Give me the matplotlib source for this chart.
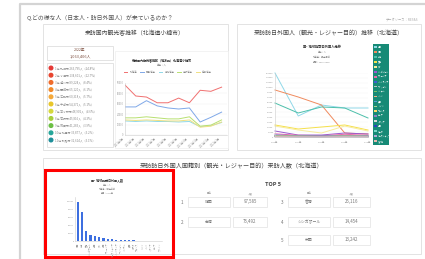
import matplotlib
matplotlib.use('Agg')
import matplotlib.pyplot as plt
from matplotlib.patches import Rectangle, Circle

plt.rcParams['font.family'] = ['Noto Sans CJK JP', 'DejaVu Sans']

# --- data -------------------------------------------------------------
page_title = 'Q.どの様な人（日本人・訪日外国人）が来ているのか？'
source_note = 'データソース：RESAS'

# panel 1: domestic visitors (Otaru)
total_year = '2022年'
total_count = '1,063,406人'
rank_labels = ['1位 札幌市 263,795人（24.8%）', '2位 小樽市 134,601人（12.7%）',
               '3位 旭川市 89,224人（8.4%）', '4位 函館市 65,120人（6.1%）',
               '5位 江別市 60,318人（5.7%）', '6位 千歳市 54,371人（5.1%）',
               '7位 苫小牧市 48,902人（4.6%）', '8位 石狩市 45,816人（4.3%）',
               '9位 帯広市 41,283人（3.9%）', '10位 北見市 33,877人（3.2%）',
               '11位 釧路市 32,614人（3.1%）']
rank_colors = ['#e53935', '#e8452f', '#ef6c2c', '#f2892a', '#f5a93a', '#e8c62a',
               '#d5d83a', '#a8cf3a', '#6cbf45', '#26a69a', '#1e8f9a']

months = ['2021年4月', '2021年5月', '2021年6月', '2021年7月', '2021年8月',
          '2021年9月', '2021年10月', '2021年11月', '2021年12月', '2022年1月']
dom_names = ['北海道', '関東地方', '東北地方', '中部地方', '近畿地方']
dom_colors = ['#f07070', '#7fa8e8', '#8fd8e8', '#b8e070', '#f0e080']
dom_hokkaido = [48000, 37500, 36500, 31000, 31000, 35500, 31000, 43000, 42000, 46000]
dom_kanto = [27000, 27000, 33000, 28000, 26000, 25000, 26000, 12500, 17000, 22000]
dom_tohoku = [13500, 13000, 13500, 13000, 13000, 12500, 13000, 8000, 9000, 12000]
dom_chubu = [16500, 16500, 17500, 16500, 15500, 15500, 17500, 8500, 9500, 14500]
dom_kinki = [14500, 14000, 14500, 14000, 13500, 13500, 14500, 7500, 8500, 12500]

# panel 2: foreign visitors by country (Hokkaido)
years = ['2016年', '2017年', '2018年', '2019年', '2020年']
intl_names = ['中国', '韓国', '台湾', '香港', 'タイ', 'シンガポール', 'マレーシア',
              'インドネシア', 'フィリピン', 'ベトナム', 'インド', '英国', 'ドイツ',
              'フランス', 'ロシア', 'イタリア', '米国', 'カナダ', 'オーストラリア', 'その他']
intl_colors = ['#8fd8e8', '#f08a5d', '#4cbfaa', '#f5e04a', '#f8ec9a', '#9b59d0',
               '#e86aa8', '#3f5fd0', '#c0c0c0', '#7ac36a', '#f4b183', '#5b9bd5',
               '#a9d18e', '#ffd966', '#8e7cc3', '#d9d9d9', '#2f3fbf', '#76d7c4',
               '#b4a7d6', '#e6b8af']
intl_values = [
    [130000, 42700, 65000, 58900, 58900],
    [95500, 81250, 65000, 8100, 6100],
    [69000, 48750, 61000, 58900, 38600],
    [24400, 16250, 20300, 24400, 14200],
    [22300, 14200, 8100, 22300, 12200],
    [12200, 4000, 4000, 8100, 6100],
    [6500, 3500, 2500, 5500, 3500],
    [4000, 2500, 2000, 3000, 2500],
    [3000, 2000, 1500, 2500, 2000],
    [2500, 1800, 1200, 2000, 1500],
    [2000, 1500, 1000, 1800, 1200],
    [1800, 1200, 900, 1500, 1000],
    [1500, 1000, 800, 1200, 900],
    [1300, 900, 700, 1000, 800],
    [1200, 800, 600, 900, 700],
    [1000, 700, 500, 800, 600],
    [900, 600, 500, 700, 500],
    [800, 500, 400, 600, 400],
    [700, 400, 300, 500, 300],
    [600, 300, 200, 400, 200],
]

# lower panel: visitors by nationality
nat_names = ['韓国', '台湾', '香港', 'シンガポール', '米国', 'タイ', '中国', 'マレーシア',
             'オーストラリア', 'インドネシア', 'フィリピン', 'ベトナム', '英国', 'カナダ',
             'フランス', 'ドイツ', 'インド', 'イタリア', 'ロシア', 'スペイン']
nat_values = [97585, 73492, 25116, 14454, 13242, 9800, 6500, 4800, 3900, 3300,
              2800, 2400, 1900, 1500, 1200, 900, 700, 500, 400, 300]

# --- figure -----------------------------------------------------------
W, H = 425, 259
fig = plt.figure(figsize=(W / 100, H / 100), dpi=100)
bg = fig.add_axes([0, 0, 1, 1])
bg.set_xlim(0, W)
bg.set_ylim(H, 0)
bg.axis('off')


def px_axes(x0, y0, x1, y1):
    return fig.add_axes([x0 / W, 1 - y1 / H, (x1 - x0) / W, (y1 - y0) / H])


def box(x0, y0, x1, y1, ec='#dedede', lw=0.6, fc='white', z=1):
    bg.add_patch(Rectangle((x0, y0), x1 - x0, y1 - y0, ec=ec, fc=fc, lw=lw, zorder=z))


def tiny_axes(ax, fs):
    for s in ['top', 'right']:
        ax.spines[s].set_visible(False)
    for s in ['left', 'bottom']:
        ax.spines[s].set_color('#cccccc')
        ax.spines[s].set_linewidth(0.4)
    ax.tick_params(labelsize=fs, colors='#999999', length=0, pad=1)
    ax.set_facecolor('none')


# outer card
bg.plot([20, 20, W], [H, 4, 4], color='#d4d4d4', lw=1.6, zorder=0)
bg.text(27, 18, page_title, fontsize=4.2, color='#555555', va='center')
bg.text(418, 20, source_note, fontsize=2.3, color='#aaaaaa', va='center', ha='right')

# panel boxes
box(43, 24, 228, 150)
box(237, 24, 421, 150)
box(43, 158, 421, 254)
bg.text(135, 33, '来訪国内観光客推移（北海道小樽市）', fontsize=4.2, color='#444444',
        ha='center', va='center')
bg.text(329, 33, '来訪訪日外国人（観光・レジャー目的）推移（北海道）', fontsize=4.3,
        color='#444444', ha='center', va='center')
bg.text(232, 166, '来訪訪日外国人国籍別（観光・レジャー目的）来訪人数（北海道）',
        fontsize=4.4, color='#444444', ha='center', va='center')

# --- panel 1 ------------------------------------------------------------
box(47, 46, 113, 60, z=2)
bg.text(80, 50, total_year, fontsize=2.6, color='#7a4a3a', ha='center', va='center', zorder=3)
bg.text(80, 56, total_count, fontsize=2.8, color='#7a4a3a', ha='center', va='center', zorder=3)
box(47, 63, 113, 147, z=2)
for i, (lab, col) in enumerate(zip(rank_labels, rank_colors)):
    yy = 68 + i * 7.2
    bg.add_patch(Circle((51, yy), 1.8, color=col, zorder=3))
    bg.text(55, yy, lab, fontsize=2.1, color='#888888', va='center', zorder=3)

box(115, 51, 227.7, 148, ec='#eeeeee', lw=0.5, z=2)
bg.text(162, 60, '来訪国内観光客推移（地方別）北海道小樽市', fontsize=2.2, color='#333333',
        ha='center', va='center', weight='bold', zorder=3)
bg.text(162, 65, '単位：人', fontsize=1.8, color='#888888', ha='center', va='center', zorder=3)

ax1 = px_axes(125, 83, 227, 135)
for vals, name, col in zip([dom_hokkaido, dom_kanto, dom_tohoku, dom_chubu, dom_kinki],
                           dom_names, dom_colors):
    ax1.plot(range(len(months)), vals, color=col, lw=0.7, label=name)
tiny_axes(ax1, 1.8)
ax1.set_xlim(0, len(months) - 0.5)
ax1.set_ylim(0, 50000)
ax1.set_yticks(range(0, 50001, 10000))
ax1.set_xticks(range(len(months)))
ax1.set_xticklabels(months, rotation=45, ha='right')
ax1.grid(axis='y', color='#f0f0f0', lw=0.3)
ax1.legend(loc='center', bbox_to_anchor=(0.42, 1.21), ncol=5, fontsize=1.8, frameon=False,
           handlelength=1.5, columnspacing=1.2, labelcolor='#888888')

# --- panel 2 ------------------------------------------------------------
bg.text(322, 47, '国・地域別訪日外国人推移', fontsize=2.3, color='#333333', ha='center',
        va='center', weight='bold')
for j, sub in enumerate(['単位：人', '北海道：観光目的', '期間：2016-2020']):
    bg.text(322, 52 + j * 4.8, sub, fontsize=1.6, color='#888888', ha='center', va='center')

ax2 = px_axes(275, 73, 368, 137)
for vals, col in zip(intl_values, intl_colors):
    ax2.plot(range(len(years)), vals, color=col, lw=0.7, clip_on=False)
tiny_axes(ax2, 1.6)
ax2.set_xlim(0, len(years) - 1)
ax2.set_ylim(0, 130000)
ax2.set_yticks(range(0, 130001, 10000))
ax2.set_xticks(range(len(years)))
ax2.set_xticklabels(years)
ax2.tick_params(axis='x', pad=3)
ax2.grid(axis='y', color='#f3f3f3', lw=0.3)

bg.add_patch(Rectangle((373, 44), 16, 101, fc='#178a76', ec='none', zorder=2))
for i, (name, col) in enumerate(zip(intl_names, intl_colors)):
    yy = 47 + i * 4.95
    bg.add_patch(Rectangle((374.5, yy - 0.9), 2.2, 1.8, fc=col, ec='none', zorder=3))
    bg.text(378, yy, name, fontsize=1.4, color='white', va='center', zorder=3)

# --- lower panel: bar chart ------------------------------------------------
bg.text(107, 180, '国・地域別訪日外国人数', fontsize=2.2, color='#333333', ha='center',
        va='center', weight='bold')
for j, sub in enumerate(['単位：人', '北海道：観光目的', '期間：2019年']):
    bg.text(107, 184.5 + j * 4, sub, fontsize=1.5, color='#888888', ha='center', va='center')

ax3 = px_axes(75, 197, 162, 241)
ax3.bar(range(len(nat_values)), nat_values, width=0.5, color='#3d6fe0')
tiny_axes(ax3, 1.5)
ax3.set_xlim(-0.6, len(nat_values) - 0.4)
ax3.set_ylim(0, 110000)
ax3.set_yticks(range(0, 100001, 20000))
ax3.set_xticks(range(len(nat_values)))
ax3.set_xticklabels(nat_names, rotation=90)

bg.add_patch(Rectangle((45.5, 169.5), 128, 87.5, fc='none', ec='#ff0000', lw=2.2, zorder=5))

# --- lower panel: TOP 5 -----------------------------------------------------
bg.text(273, 185, 'TOP 5', fontsize=4, color='#444444', ha='center', va='center', weight='bold')
row_y = [202, 222, 240]
groups = [(182, 188, 230, 233, 267, [0, 1]), (282, 288, 330, 333, 370, [2, 3, 4])]
for rx, n0, n1, c0, c1, ranks in groups:
    bg.text((n0 + n1) / 2, 193, '国名', fontsize=1.8, color='#999999', ha='center', va='center')
    bg.text((c0 + c1) / 2, 193, '人数', fontsize=1.8, color='#999999', ha='center', va='center')
    for row, r in enumerate(ranks):
        yy = row_y[row]
        bg.text(rx, yy, str(r + 1), fontsize=3.3, color='#777777', ha='center', va='center')
        box(n0, yy - 5, n1, yy + 5, ec='#e2e2e2', lw=0.5, z=2)
        box(c0, yy - 5, c1, yy + 5, ec='#e2e2e2', lw=0.5, z=2)
        bg.text((n0 + n1) / 2, yy, nat_names[r], fontsize=2.8, color='#777777',
                ha='center', va='center', zorder=3)
        bg.text((c0 + c1) / 2, yy, f'{nat_values[r]:,}', fontsize=3.2, color='#777777',
                ha='center', va='center', zorder=3)

fig.savefig('out.png', dpi=100)
